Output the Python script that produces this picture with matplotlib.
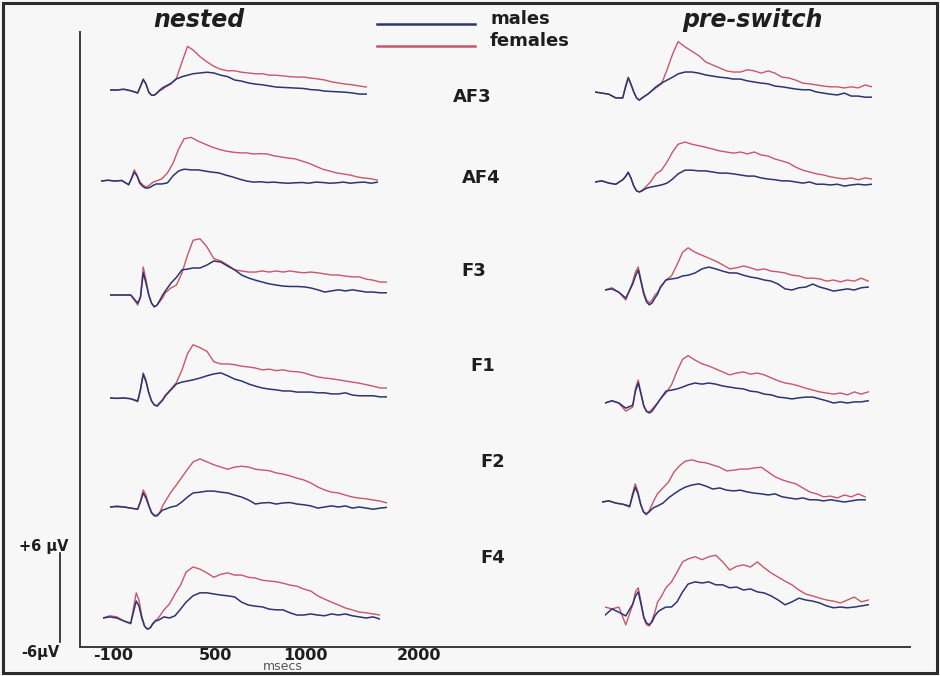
import matplotlib
matplotlib.use("Agg")
import matplotlib.pyplot as plt
from matplotlib.lines import Line2D
from matplotlib.patches import Rectangle

plt.rcParams['font.family'] = ['DejaVu Sans']

FW, FH = 940, 676
PX_PER_UV = 7.4
PANEL_W = 277
MS_SPAN = (-200, 1800)

MALE_COLOR = '#2e3470'
FEMALE_COLOR = '#c9566a'
INK = '#1e1e1e'

time_ms = [-200, -150, -100, -50, 0, 20, 40, 60, 80, 100, 120, 140, 160, 180, 200,
           240, 280, 320, 360, 400, 450, 500, 550, 600, 650, 700, 750, 800, 850, 900,
           950, 1000, 1050, 1100, 1150, 1200, 1250, 1300, 1350, 1400, 1450, 1500, 1550,
           1600, 1650, 1700, 1750, 1800]

electrodes = ['AF3', 'AF4', 'F3', 'F1', 'F2', 'F4']
conditions = ['nested', 'pre-switch']
groups = ['males', 'females']
tick_labels = ['-100', '500', '1000', '2000']

# grand averages in microvolts, one value per entry of time_ms
nested_af3_m = [0, 0, 0.1, -0.1, -0.4, 0.5, 1.4, 0.8, -0.3, -0.7, -0.7, -0.4, 0, 0.3, 0.5,
                0.9, 1.5, 1.8, 2.0, 2.2, 2.3, 2.4, 2.3, 2.0, 1.8, 1.35, 1.2, 0.95, 0.8, 0.7,
                0.55, 0.4, 0.35, 0.3, 0.25, 0.2, 0.05, 0, -0.15, -0.2, -0.25, -0.3, -0.4,
                -0.55, -0.55]
nested_af3_f = [0, 0, 0.1, -0.1, -0.4, 0.5, 1.5, 0.8, -0.3, -0.7, -0.7, -0.4, -0.1, 0.1, 0.4,
                0.8, 1.6, 3.8, 5.9, 5.4, 4.5, 3.8, 3.2, 2.8, 2.6, 2.6, 2.4, 2.3, 2.2, 2.2,
                2.0, 2.0, 1.9, 1.8, 1.75, 1.75, 1.6, 1.5, 1.35, 1.1, 0.95, 0.8, 0.7, 0.55, 0.4]
nested_af4_m = [0, 0.1, 0, 0.05, -0.5, 0.3, 1.2, 0.7, -0.3, -0.7, -0.95, -0.95, -0.8, -0.55,
                -0.4, -0.4, -0.25, 0.7, 1.35, 1.6, 1.5, 1.5, 1.35, 1.2, 1.1, 0.8, 0.55, 0.25,
                0, -0.15, -0.1, -0.2, -0.15, -0.25, -0.3, -0.25, -0.2, -0.3, -0.15, -0.2,
                -0.3, -0.25, -0.15, -0.3, -0.2, -0.15, -0.3, -0.15]
nested_af4_f = [0, 0.1, 0, 0.1, -0.5, 0.4, 1.5, 0.8, -0.1, -0.5, -0.8, -0.7, -0.4, -0.1, 0,
                0.3, 1.1, 2.4, 4.3, 5.7, 5.9, 5.4, 5.0, 4.6, 4.3, 4.05, 3.9, 3.8, 3.8, 3.65,
                3.7, 3.65, 3.4, 3.25, 3.1, 3.0, 2.7, 2.4, 2.0, 1.6, 1.35, 1.1, 0.95, 0.8,
                0.55, 0.4, 0.3, 0.1]
nested_f3_m = [0, 0, 0, 0, -1.1, -0.3, 3.0, 1.6, 0, -1.1, -1.6, -1.35, -0.7, 0, 0.55,
               1.6, 2.4, 3.4, 3.5, 3.65, 3.65, 4.05, 4.6, 4.45, 3.9, 3.4, 2.7, 2.3, 2.0,
               1.75, 1.5, 1.35, 1.2, 1.15, 1.15, 1.1, 0.95, 0.7, 0.4, 0.55, 0.7, 0.55, 0.7,
               0.55, 0.4, 0.4, 0.3, 0.3]
nested_f3_f = [0, 0, 0, 0, -1.35, -0.3, 3.8, 2.0, 0, -1.1, -1.6, -1.35, -0.9, -0.4, 0.3,
               0.95, 1.35, 3.0, 5.4, 7.4, 7.6, 6.5, 4.9, 4.6, 4.05, 3.4, 3.25, 3.1, 3.1,
               3.25, 3.1, 3.25, 3.1, 3.25, 3.1, 3.0, 3.1, 3.0, 2.85, 2.7, 2.7, 2.55, 2.45,
               2.45, 2.15, 2.0, 1.75, 1.75]
nested_f1_m = [0, -0.05, 0, -0.1, -0.4, 1.1, 3.2, 2.2, 0.7, -0.4, -0.95, -1.1, -0.7, -0.3,
               0.3, 1.1, 1.9, 2.15, 2.3, 2.45, 2.7, 3.0, 3.25, 3.4, 3.0, 2.55, 2.3, 1.9, 1.6,
               1.35, 1.2, 1.1, 0.95, 0.95, 0.8, 0.8, 0.8, 0.7, 0.7, 0.55, 0.55, 0.7, 0.4,
               0.3, 0.3, 0.3, 0.15, 0.15]
nested_f1_f = [0, -0.05, 0, -0.1, -0.5, 1.2, 3.4, 2.4, 0.7, -0.4, -0.95, -1.0, -0.6, -0.2,
               0.4, 1.2, 2.1, 3.8, 6.0, 7.2, 6.8, 6.3, 4.9, 4.6, 4.6, 4.5, 4.3, 4.2, 4.05,
               3.8, 3.9, 3.7, 3.8, 3.6, 3.55, 3.4, 3.1, 2.85, 2.7, 2.6, 2.45, 2.3, 2.15,
               2.0, 1.8, 1.6, 1.35, 1.35]
nested_f2_m = [0, 0.05, 0, -0.15, -0.3, 0.7, 1.9, 1.2, 0.15, -0.8, -1.2, -1.2, -0.8, -0.4,
               -0.3, 0, 0.15, 0.7, 1.35, 1.9, 2.0, 2.15, 2.15, 2.0, 1.9, 1.6, 1.35, 0.95,
               0.4, 0.55, 0.6, 0.4, 0.55, 0.6, 0.4, 0.3, 0.15, -0.15, 0, 0.15, 0, 0.15,
               -0.15, 0, -0.15, -0.3, -0.15, -0.05]
nested_f2_f = [0, 0.15, 0, -0.15, -0.3, 0.8, 2.3, 1.6, 0.3, -0.7, -1.1, -1.1, -0.7, 0.15,
               0.8, 2.0, 3.0, 4.05, 5.1, 6.1, 6.5, 6.1, 5.7, 5.4, 5.1, 5.4, 5.5, 5.4, 5.1,
               5.0, 4.9, 4.6, 4.45, 4.2, 3.9, 3.65, 3.25, 2.7, 2.3, 2.0, 1.9, 1.6, 1.35,
               1.2, 1.1, 0.95, 0.8, 0.55]
nested_f4_m = [0, 0.15, 0, -0.4, -0.7, 0.8, 2.3, 1.6, 0, -1.1, -1.5, -1.35, -0.8, -0.4,
               -0.3, 0.15, 0, 0.3, 1.2, 2.15, 3.0, 3.4, 3.4, 3.25, 3.1, 3.0, 2.85, 2.15,
               1.75, 1.6, 1.5, 1.2, 1.1, 1.1, 0.7, 0.4, 0.4, 0.55, 0.4, 0.3, 0.55, 0.4,
               0.55, 0.3, 0.15, 0, 0.15, -0.15]
nested_f4_f = [0, 0.3, 0.15, -0.4, -0.8, 1.35, 3.4, 2.4, 0.3, -1.1, -1.5, -1.35, -0.7,
               -0.3, 0, 1.1, 1.9, 3.25, 4.45, 6.2, 6.9, 6.6, 6.1, 5.5, 5.9, 6.1, 5.8, 5.8,
               5.5, 5.4, 5.1, 5.0, 4.9, 4.7, 4.45, 4.3, 3.9, 3.65, 3.0, 2.55, 2.15, 1.75,
               1.35, 1.1, 0.8, 0.7, 0.55, 0.4]

preswitch_af3_m = [0, -0.15, -0.3, -0.8, -0.8, 0.6, 1.9, 1.0, 0, -0.8, -1.1, -0.8, -0.55,
                   -0.3, 0, 0.7, 1.2, 1.6, 2.0, 2.45, 2.7, 2.7, 2.55, 2.3, 2.15, 2.0, 1.9,
                   1.75, 1.75, 1.5, 1.35, 1.2, 1.1, 0.8, 0.7, 0.55, 0.4, 0.3, 0.3, 0, -0.15,
                   -0.3, -0.4, -0.15, -0.55, -0.55, -0.7, -0.7]
preswitch_af3_f = [0, -0.15, -0.3, -0.8, -0.8, 0.8, 2.0, 1.1, 0, -0.8, -1.1, -0.8, -0.55,
                   -0.3, 0, 0.55, 1.1, 3.0, 5.1, 6.8, 6.1, 5.5, 4.9, 4.05, 3.65, 3.25, 2.85,
                   2.7, 2.7, 3.0, 2.85, 2.55, 2.85, 2.55, 2.0, 1.9, 1.6, 1.2, 1.1, 0.95, 0.8,
                   0.7, 0.7, 0.55, 0.7, 0.55, 0.95, 0.7]
preswitch_af4_m = [0, 0.15, -0.15, -0.3, 0.3, 0.7, 1.3, 0.5, -0.55, -1.2, -1.35, -1.2,
                   -0.95, -0.8, -0.7, -0.55, -0.4, -0.15, 0.4, 1.1, 1.6, 1.6, 1.5, 1.5, 1.35,
                   1.2, 1.2, 1.1, 0.95, 0.8, 0.8, 0.55, 0.4, 0.3, 0.15, 0.15, 0, -0.15, 0,
                   -0.3, -0.3, -0.4, -0.3, -0.55, -0.4, -0.3, -0.4, -0.3]
preswitch_af4_f = [0, 0.15, -0.15, -0.3, 0.3, 0.8, 1.35, 0.55, -0.55, -1.2, -1.35, -1.1,
                   -0.8, -0.4, 0, 1.1, 1.6, 2.7, 4.05, 5.1, 5.4, 5.1, 4.9, 4.7, 4.45, 4.2,
                   4.05, 3.9, 4.05, 3.8, 4.05, 3.65, 3.5, 3.1, 2.85, 2.55, 2.0, 1.6, 1.35,
                   1.1, 0.95, 0.7, 0.55, 0.4, 0.55, 0.3, 0.55, 0.4]
preswitch_f3_m = [0, 0.15, -0.3, -1.1, 0.8, 1.9, 2.7, 1.1, -0.55, -1.6, -2.0, -1.75, -1.1,
                  -0.55, 0.4, 1.35, 1.5, 1.6, 1.9, 2.0, 2.3, 2.85, 3.1, 2.85, 2.55, 2.3, 2.3,
                  2.0, 1.75, 1.6, 1.35, 1.2, 0.8, 0.15, 0, 0.3, 0.4, 0.8, 0.4, 0.15, -0.15,
                  0, 0.15, 0, 0.3, 0.4]
preswitch_f3_f = [0, 0.3, -0.3, -1.35, 1.1, 2.45, 3.1, 1.35, -0.3, -1.35, -1.75, -1.35,
                  -0.7, -0.3, 0.3, 1.35, 1.9, 3.4, 5.1, 5.7, 5.1, 4.7, 4.3, 3.9, 3.4, 2.85,
                  3.0, 3.25, 3.0, 2.7, 2.85, 2.55, 2.45, 2.3, 2.0, 1.9, 1.6, 1.6, 1.5, 1.2,
                  1.35, 1.1, 1.35, 1.2, 1.6, 1.2]
preswitch_f1_m = [0, 0.3, 0, -0.7, -0.3, 1.6, 2.7, 1.2, -0.4, -1.1, -1.35, -1.1, -0.55, 0,
                  0.55, 1.6, 1.75, 1.9, 2.15, 2.45, 2.7, 2.55, 2.7, 2.55, 2.3, 2.15, 2.0, 1.9,
                  1.6, 1.5, 1.2, 1.1, 0.8, 0.7, 0.55, 0.7, 0.8, 0.8, 0.55, 0.3, 0, 0.15, 0,
                  0.15, 0.15, 0.3]
preswitch_f1_f = [0, 0.3, 0, -1.1, -0.55, 2.0, 3.1, 1.35, -0.4, -1.2, -1.2, -0.8, -0.4, 0,
                  0.55, 1.35, 2.45, 4.3, 5.9, 6.4, 5.8, 5.3, 5.0, 4.6, 4.2, 3.8, 4.05, 4.2,
                  3.9, 4.05, 3.8, 3.4, 3.0, 2.7, 2.55, 2.3, 2.0, 1.75, 1.5, 1.35, 1.2, 1.35,
                  1.1, 1.5, 1.2, 1.5]
preswitch_f2_m = [0, 0.15, -0.15, -0.3, -0.55, 0.8, 2.0, 1.1, -0.4, -1.35, -1.6, -1.35,
                  -0.95, -0.7, -0.55, -0.15, 0.55, 1.1, 1.6, 2.0, 2.3, 2.45, 2.15, 1.75, 1.9,
                  1.6, 1.5, 1.6, 1.35, 1.2, 1.1, 0.95, 1.1, 0.7, 0.55, 0.4, 0.55, 0.3, 0.3,
                  0.15, 0.3, 0.15, 0, 0.15, 0.3, 0.3]
preswitch_f2_f = [0, 0.15, -0.15, -0.3, -0.7, 1.1, 2.45, 1.35, -0.3, -1.35, -1.75, -1.2,
                  -0.4, 0.4, 1.1, 1.9, 2.7, 4.05, 4.9, 5.5, 5.7, 5.4, 5.3, 5.0, 4.7, 4.2, 4.3,
                  4.45, 4.45, 4.6, 4.7, 4.05, 3.4, 3.0, 2.7, 2.45, 1.9, 1.35, 1.1, 0.7, 0.8,
                  0.55, 0.95, 0.7, 1.1, 0.7]
preswitch_f4_m = [-0.7, 0.15, -0.3, -0.8, 0.8, 1.9, 2.45, 0.8, -0.95, -1.75, -2.0, -1.6,
                  -0.8, -0.3, 0, 0.4, 0.4, 1.1, 2.45, 3.5, 3.8, 3.65, 3.8, 3.4, 3.4, 3.0, 3.1,
                  2.7, 2.85, 2.45, 2.3, 1.9, 1.35, 0.7, 1.1, 1.6, 1.35, 1.2, 0.95, 0.55, 0.3,
                  0.4, 0.3, 0.4, 0.55, 0.7]
preswitch_f4_f = [0.4, 0.15, 0.4, -2.0, 0.7, 2.45, 3.0, 1.1, -1.1, -2.0, -2.15, -1.35, -0.3,
                  1.1, 1.6, 3.0, 3.8, 5.1, 6.5, 6.9, 7.2, 6.8, 7.2, 7.4, 6.5, 5.4, 5.9, 6.1,
                  5.8, 6.5, 5.7, 5.0, 4.45, 3.9, 3.4, 2.7, 2.15, 1.9, 1.6, 1.35, 1.2, 0.95,
                  1.35, 1.75, 1.1, 1.35]

waves = {
    ('nested', 'AF3'): (nested_af3_m, nested_af3_f),
    ('nested', 'AF4'): (nested_af4_m, nested_af4_f),
    ('nested', 'F3'): (nested_f3_m, nested_f3_f),
    ('nested', 'F1'): (nested_f1_m, nested_f1_f),
    ('nested', 'F2'): (nested_f2_m, nested_f2_f),
    ('nested', 'F4'): (nested_f4_m, nested_f4_f),
    ('pre-switch', 'AF3'): (preswitch_af3_m, preswitch_af3_f),
    ('pre-switch', 'AF4'): (preswitch_af4_m, preswitch_af4_f),
    ('pre-switch', 'F3'): (preswitch_f3_m, preswitch_f3_f),
    ('pre-switch', 'F1'): (preswitch_f1_m, preswitch_f1_f),
    ('pre-switch', 'F2'): (preswitch_f2_m, preswitch_f2_f),
    ('pre-switch', 'F4'): (preswitch_f4_m, preswitch_f4_f),
}

# panel placement in pixels: left edge and zero line of each trace pair
panel_left = {'nested': [110, 101, 110, 110, 110, 103],
              'pre-switch': [595, 595, 605, 605, 602, 605]}
panel_zero = {'nested': [90, 181, 295, 398, 507, 618],
              'pre-switch': [92, 182, 290, 403, 502, 610]}
label_pos = [(472, 97), (481, 178), (474, 271), (483, 366), (493, 462), (493, 558)]
tick_px = [113, 215, 305, 419]


def fx(px):
    return px / FW


def fy(py):
    return 1 - py / FH


fig = plt.figure(figsize=(FW / 100, FH / 100), dpi=100, facecolor='#f7f7f7')

# outer frame
fig.patches.append(Rectangle((fx(3), fy(673)), fx(934), 670 / FH, transform=fig.transFigure,
                             fill=False, edgecolor='#2c2c2c', linewidth=2.2))

# axis lines with the time labels
frame = fig.add_axes([fx(80), fy(647), fx(830), 615 / FH])
frame.set_xlim(80, 910)
frame.set_ylim(0, 1)
frame.patch.set_alpha(0)
for side in ['top', 'right']:
    frame.spines[side].set_visible(False)
for side in ['left', 'bottom']:
    frame.spines[side].set_color('#3a3a3a')
    frame.spines[side].set_linewidth(1.4)
frame.set_yticks([])
frame.set_xticks(tick_px)
frame.set_xticklabels(tick_labels, fontsize=11.5, fontweight='bold', color=INK)
frame.tick_params(axis='x', length=0, pad=0.5)
fig.text(fx(283), fy(667), 'msecs', fontsize=9, color='#555555', ha='center', va='center')

# amplitude scale bar
fig.add_artist(Line2D([fx(60), fx(60)], [fy(553), fy(642)], color=INK, linewidth=1.2))
fig.text(fx(44), fy(547), '+6 µV', fontsize=10.5, fontweight='bold', color=INK,
         ha='center', va='center')
fig.text(fx(40), fy(653), '-6µV', fontsize=10.5, fontweight='bold', color=INK,
         ha='center', va='center')

# condition titles
fig.text(fx(199), fy(20), conditions[0], fontsize=17, fontweight='bold', style='italic',
         color=INK, ha='center', va='center')
fig.text(fx(752), fy(20), conditions[1], fontsize=17, fontweight='bold', style='italic',
         color=INK, ha='center', va='center')

# legend
for py, color, name in [(24, MALE_COLOR, groups[0]), (46, FEMALE_COLOR, groups[1])]:
    fig.add_artist(Line2D([fx(377), fx(475)], [fy(py), fy(py)], color=color, linewidth=1.8))
    fig.text(fx(490), fy(py - 5), name, fontsize=13, fontweight='bold', color=INK,
             ha='left', va='center')

# electrode names
for name, (px, py) in zip(electrodes, label_pos):
    fig.text(fx(px), fy(py), name, fontsize=13, fontweight='bold', color=INK,
             ha='center', va='center')

# waveforms
lo, hi = -5, 10
for cond in conditions:
    for i, name in enumerate(electrodes):
        left = panel_left[cond][i]
        zero = panel_zero[cond][i]
        bottom_px = zero - lo * PX_PER_UV
        ax = fig.add_axes([fx(left), fy(bottom_px), fx(PANEL_W), (hi - lo) * PX_PER_UV / FH])
        ax.set_xlim(*MS_SPAN)
        ax.set_ylim(lo, hi)
        ax.axis('off')
        ax.patch.set_alpha(0)
        male, female = waves[(cond, name)]
        ax.plot(time_ms[:len(female)], female, color=FEMALE_COLOR, linewidth=1.0)
        ax.plot(time_ms[:len(male)], male, color=MALE_COLOR, linewidth=1.1)

fig.savefig('out.png', dpi=100, facecolor=fig.get_facecolor())
